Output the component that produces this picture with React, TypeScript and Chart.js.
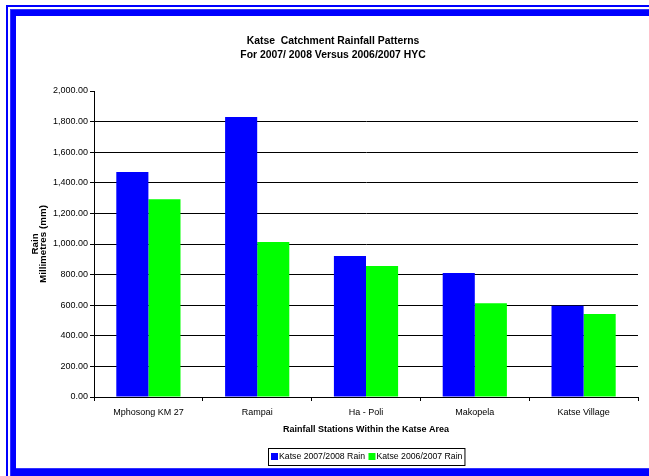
import React, { useEffect, useRef } from 'react';
import { Chart, registerables } from 'chart.js';

Chart.register(...registerables);

const categories = ['Mphosong KM 27', 'Rampai', 'Ha - Poli', 'Makopela', 'Katse Village'];
const rain20072008 = [1470, 1830, 922, 811, 596];
const rain20062007 = [1293, 1013, 856, 612, 543];
const seriesLabels = ['Katse 2007/2008 Rain', 'Katse 2006/2007 Rain'];
const seriesColors = ['#0000ff', '#00ff00'];
const titleLines = ['Katse  Catchment Rainfall Patterns', 'For 2007/ 2008 Versus 2006/2007 HYC'];
const yTitleLines = ['Rain', 'Millimetres (mm)'];
const xTitle = 'Rainfall Stations Within the Katse Area';
const yMin = 0;
const yMax = 2000;
const yStep = 200;

const FONT = "'Liberation Sans', Arial, sans-serif";

const framePlugin = {
  id: 'frame',
  beforeDraw(chart: any) {
    const { ctx, width, height } = chart;
    ctx.save();
    ctx.fillStyle = '#ffffff';
    ctx.fillRect(0, 0, width, height);
    ctx.fillStyle = '#0000ff';
    // outer thin line
    ctx.fillRect(6, 5, 2, height - 5);
    ctx.fillRect(6, 5, width - 6, 2);
    // inner thick line
    ctx.fillStyle = '#3333ff';
    ctx.fillRect(10, 9, 6, height - 9);
    ctx.fillRect(10, 9, width - 10, 7);
    ctx.fillRect(10, 468, width - 10, height - 468);
    ctx.fillStyle = '#0000ff';
    ctx.fillRect(11, 10, 5, height - 10);
    ctx.fillRect(11, 10, width - 11, 6);
    ctx.fillRect(11, 469, width - 11, height - 469);
    ctx.restore();
  },
};

const legendPlugin = {
  id: 'boxLegend',
  afterDraw(chart: any) {
    const { ctx, chartArea } = chart;
    ctx.save();
    ctx.font = `8.7px ${FONT}`;
    const box = 7;
    const gapText = 1;
    const gapItem = 3.5;
    const padX = 2.5;
    const items = chart.data.datasets.map((ds: any) => ({
      text: ds.label,
      color: ds.backgroundColor,
      w: ctx.measureText(ds.label).width,
    }));
    let total = padX * 2;
    items.forEach((it: any, i: number) => {
      total += box + gapText + it.w + (i > 0 ? gapItem : 0);
    });
    const cx = (chartArea.left + chartArea.right) / 2;
    const left = Math.round(cx - total / 2) + 0.5;
    const top = 448.5;
    const h = 17;
    ctx.strokeStyle = '#000';
    ctx.lineWidth = 1;
    ctx.strokeRect(left, top, total, h);
    const cy = top + h / 2;
    let x = left + padX;
    ctx.textBaseline = 'middle';
    ctx.textAlign = 'left';
    items.forEach((it: any, i: number) => {
      if (i > 0) x += gapItem;
      ctx.fillStyle = it.color;
      ctx.fillRect(x, cy - box / 2 - 0.5, box, box);
      x += box + gapText;
      ctx.fillStyle = '#000';
      ctx.fillText(it.text, x, cy);
      x += it.w;
    });
    ctx.restore();
  },
};

export default function App() {
  const ref = useRef<HTMLCanvasElement | null>(null);

  useEffect(() => {
    if (!ref.current) return;
    const chart = new Chart(ref.current, {
      type: 'bar',
      data: {
        labels: categories,
        datasets: [
          { label: seriesLabels[0], data: rain20072008, backgroundColor: seriesColors[0], borderWidth: 0 },
          { label: seriesLabels[1], data: rain20062007, backgroundColor: seriesColors[1], borderWidth: 0 },
        ],
      },
      options: {
        responsive: false,
        animation: false,
        devicePixelRatio: 1,
        layout: { padding: { left: 28, right: 11, top: 0, bottom: 40.6 } },
        datasets: { bar: { categoryPercentage: 0.59, barPercentage: 1 } },
        plugins: {
          legend: { display: false },
          tooltip: { enabled: false },
          title: {
            display: true,
            text: titleLines,
            color: '#000',
            font: { family: FONT, size: 10.4, weight: 'bold', lineHeight: 14 / 10.4 },
            padding: { top: 34, bottom: 29 },
          },
        },
        scales: {
          x: {
            grid: {
              display: true,
              drawOnChartArea: false,
              drawTicks: true,
              tickLength: 4,
              color: '#000',
              tickColor: '#000',
              offset: true,
            },
            border: { display: true, color: '#000' },
            ticks: {
              color: '#000',
              font: { family: FONT, size: 9 },
              padding: 6.5,
              maxRotation: 0,
              autoSkip: false,
            },
            title: {
              display: true,
              text: xTitle,
              color: '#000',
              font: { family: FONT, size: 9, weight: 'bold', lineHeight: 1.2 },
              padding: { top: 0, bottom: 0 },
            },
            afterFit: (s: any) => {
              s.height = 38.4;
            },
          },
          y: {
            min: yMin,
            max: yMax,
            ticks: {
              stepSize: yStep,
              color: '#000',
              font: { family: FONT, size: 9 },
              padding: 2,
              callback: (v: any) =>
                Number(v).toLocaleString('en-US', { minimumFractionDigits: 2, maximumFractionDigits: 2 }),
            },
            grid: {
              color: (c: any) => (c.tick && c.tick.value === yMax ? 'rgba(0,0,0,0)' : '#000'),
              tickColor: '#000',
              tickLength: 4,
              drawTicks: true,
            },
            border: { display: true, color: '#000' },
            title: {
              display: true,
              text: yTitleLines,
              color: '#000',
              font: { family: FONT, size: 9.8, weight: 'bold', lineHeight: 0.85 },
              padding: { top: 3, bottom: 0 },
            },
            afterFit: (s: any) => {
              s.width = 66;
            },
          },
        },
      },
      plugins: [framePlugin, legendPlugin],
    } as any);
    return () => chart.destroy();
  }, []);

  return (
    <div style={{ position: 'fixed', left: 0, top: 0, width: 649, height: 476 }}>
      <canvas ref={ref} width={649} height={476} style={{ display: 'block', width: 649, height: 476 }} />
    </div>
  );
}
